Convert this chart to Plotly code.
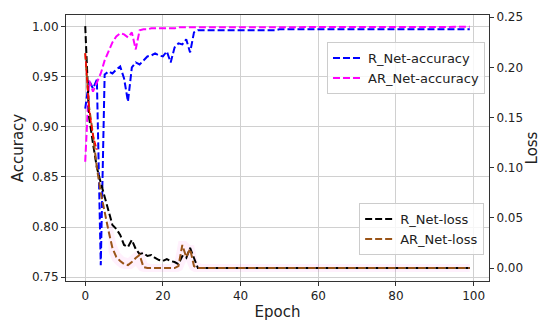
import numpy as np
import plotly.graph_objects as go

epochs = list(range(100))

r_net_accuracy = [
    0.918, 0.946, 0.938, 0.947, 0.762, 0.952, 0.955, 0.953, 0.957, 0.960,
    0.948, 0.925, 0.959, 0.964, 0.962, 0.966, 0.970, 0.971, 0.973, 0.971,
    0.970, 0.975, 0.964, 0.979, 0.983, 0.982, 0.987, 0.974, 0.994, 0.996,
    0.996, 0.996, 0.996, 0.996, 0.996, 0.996, 0.996, 0.996, 0.996, 0.996,
    0.996, 0.996, 0.996, 0.996, 0.996, 0.996, 0.996, 0.996, 0.996, 0.996,
    0.997, 0.997, 0.997, 0.997, 0.997, 0.997, 0.997, 0.997, 0.997, 0.997,
    0.997, 0.997, 0.997, 0.997, 0.997, 0.997, 0.997, 0.997, 0.997, 0.997,
    0.997, 0.997, 0.997, 0.997, 0.997, 0.997, 0.997, 0.997, 0.997, 0.997,
    0.997, 0.997, 0.997, 0.997, 0.997, 0.997, 0.997, 0.997, 0.997, 0.997,
    0.997, 0.997, 0.997, 0.997, 0.997, 0.997, 0.997, 0.997, 0.997, 0.997,
]

ar_net_accuracy = [
    0.865, 0.946, 0.935, 0.944, 0.953, 0.966, 0.975, 0.984, 0.990, 0.993,
    0.992, 0.989, 0.994, 0.977, 0.996, 0.997, 0.997, 0.998, 0.998, 0.998,
    0.998, 0.998, 0.998, 0.998, 0.999, 0.999, 0.999, 0.999, 0.999, 0.9995,
    0.9995, 0.9995, 0.9995, 0.9995, 0.9995, 0.9995, 0.9995, 0.9995, 0.9995, 0.9995,
    0.9995, 0.9995, 0.9995, 0.9995, 0.9995, 0.9995, 0.9995, 0.9995, 0.9995, 0.9995,
    0.9995, 0.9995, 0.9995, 0.9995, 0.9995, 0.9995, 0.9995, 0.9995, 0.9995, 0.9995,
    0.9995, 0.9995, 0.9995, 0.9995, 0.9995, 0.9995, 0.9995, 0.9995, 0.9995, 0.9995,
    0.9995, 0.9995, 0.9995, 0.9995, 0.9995, 0.9995, 0.9995, 0.9995, 0.9995, 0.9995,
    0.9995, 0.9995, 0.9995, 0.9995, 0.9995, 0.9995, 0.9995, 0.9995, 0.9995, 0.9995,
    0.9995, 0.9995, 0.9995, 0.9995, 0.9995, 0.9995, 0.9995, 0.9995, 0.9995, 0.9995,
]

r_net_loss = [
    0.241, 0.150, 0.124, 0.100, 0.085, 0.070, 0.058, 0.043, 0.039, 0.033,
    0.023, 0.021, 0.028, 0.019, 0.014, 0.015, 0.012, 0.013, 0.010, 0.008,
    0.007, 0.009, 0.007, 0.006, 0.004, 0.012, 0.010, 0.020, 0.010, 0.000,
    0.000, 0.000, 0.000, 0.000, 0.000, 0.000, 0.000, 0.000, 0.000, 0.000,
    0.000, 0.000, 0.000, 0.000, 0.000, 0.000, 0.000, 0.000, 0.000, 0.000,
    0.000, 0.000, 0.000, 0.000, 0.000, 0.000, 0.000, 0.000, 0.000, 0.000,
    0.000, 0.000, 0.000, 0.000, 0.000, 0.000, 0.000, 0.000, 0.000, 0.000,
    0.000, 0.000, 0.000, 0.000, 0.000, 0.000, 0.000, 0.000, 0.000, 0.000,
    0.000, 0.000, 0.000, 0.000, 0.000, 0.000, 0.000, 0.000, 0.000, 0.000,
    0.000, 0.000, 0.000, 0.000, 0.000, 0.000, 0.000, 0.000, 0.000, 0.000,
]

ar_net_loss = [
    0.214, 0.160, 0.133, 0.100, 0.075, 0.055, 0.037, 0.020, 0.011, 0.007,
    0.004, 0.003, 0.006, 0.010, 0.013, 0.001, 0.000, 0.000, 0.000, 0.000,
    0.000, 0.000, 0.000, 0.000, 0.002, 0.023, 0.011, 0.019, 0.002, 0.000,
    0.000, 0.000, 0.000, 0.000, 0.000, 0.000, 0.000, 0.000, 0.000, 0.000,
    0.000, 0.000, 0.000, 0.000, 0.000, 0.000, 0.000, 0.000, 0.000, 0.000,
    0.000, 0.000, 0.000, 0.000, 0.000, 0.000, 0.000, 0.000, 0.000, 0.000,
    0.000, 0.000, 0.000, 0.000, 0.000, 0.000, 0.000, 0.000, 0.000, 0.000,
    0.000, 0.000, 0.000, 0.000, 0.000, 0.000, 0.000, 0.000, 0.000, 0.000,
    0.000, 0.000, 0.000, 0.000, 0.000, 0.000, 0.000, 0.000, 0.000, 0.000,
    0.000, 0.000, 0.000, 0.000, 0.000, 0.000, 0.000, 0.000, 0.000, 0.000,
]

# short red segment visible at the very start of the loss curves
red_epochs = [0, 1, 2, 3]
red_loss = [0.214, 0.158, 0.132, 0.118]

x_ticks = [0, 20, 40, 60, 80, 100]
acc_ticks = [0.75, 0.80, 0.85, 0.90, 0.95, 1.00]
loss_ticks = [0.00, 0.05, 0.10, 0.15, 0.20, 0.25]

FONT = "DejaVu Sans"
DASH = "7px,3px"

ar = np.array(ar_net_loss)
band_hi = np.array([ar[max(i - 1, 0):i + 2].max() for i in range(len(ar))]) + 0.004
band_lo = np.array([ar[max(i - 1, 0):i + 2].min() for i in range(len(ar))]) - 0.004

fig = go.Figure()

fig.add_trace(go.Scatter(x=epochs, y=r_net_accuracy, mode="lines", name="R_Net-accuracy",
                         line=dict(color="#0000ff", width=2, dash=DASH), legend="legend"))
fig.add_trace(go.Scatter(x=epochs, y=ar_net_accuracy, mode="lines", name="AR_Net-accuracy",
                         line=dict(color="#ff00ff", width=2, dash=DASH), legend="legend"))

# faint pink band around AR loss
fig.add_trace(go.Scatter(x=epochs[6:], y=band_hi[6:], mode="lines", line=dict(width=0),
                         showlegend=False, yaxis="y2", hoverinfo="skip"))
fig.add_trace(go.Scatter(x=epochs[6:], y=band_lo[6:], mode="lines", line=dict(width=0),
                         fill="tonexty", fillcolor="rgba(255,0,200,0.06)",
                         showlegend=False, yaxis="y2", hoverinfo="skip"))

fig.add_trace(go.Scatter(x=epochs, y=r_net_loss, mode="lines", name="R_Net-loss",
                         line=dict(color="#000000", width=2, dash=DASH), yaxis="y2", legend="legend2"))
fig.add_trace(go.Scatter(x=epochs, y=ar_net_loss, mode="lines", name="AR_Net-loss",
                         line=dict(color="#9a5418", width=2, dash=DASH), yaxis="y2", legend="legend2"))
fig.add_trace(go.Scatter(x=red_epochs, y=red_loss, mode="lines", showlegend=False,
                         line=dict(color="#ff0000", width=1.5, dash="6px,2px"), yaxis="y2"))

axis_common = dict(
    showline=True, linecolor="#333333", linewidth=1,
    ticks="outside", ticklen=4, tickwidth=1, tickcolor="#333333",
    tickfont=dict(family=FONT, size=12, color="#222222"),
    zeroline=False, automargin=False,
)

fig.update_layout(
    width=550, height=326,
    margin=dict(l=66, r=61, t=15, b=45),
    paper_bgcolor="white", plot_bgcolor="white",
    font=dict(family=FONT, color="#222222"),
    xaxis=dict(
        range=[-4.95, 103.95], tickvals=x_ticks, ticktext=[str(v) for v in x_ticks],
        showgrid=True, gridcolor="#d0d0d0", gridwidth=1, mirror=True,
        title=dict(text="Epoch", font=dict(family=FONT, size=15), standoff=4),
        **axis_common,
    ),
    yaxis=dict(
        range=[0.7462, 1.0113], tickvals=acc_ticks, ticktext=[f"{v:.2f}" for v in acc_ticks],
        showgrid=True, gridcolor="#d0d0d0", gridwidth=1,
        title=dict(text="Accuracy", font=dict(family=FONT, size=15), standoff=4),
        **axis_common,
    ),
    yaxis2=dict(
        range=[-0.0129, 0.2521], tickvals=loss_ticks, ticktext=[f"{v:.2f}" for v in loss_ticks],
        overlaying="y", side="right", showgrid=False,
        title=dict(text="Loss", font=dict(family=FONT, size=15), standoff=4),
        **axis_common,
    ),
    legend=dict(
        x=0.617, y=0.898, xanchor="left", yanchor="top", traceorder="normal",
        bgcolor="rgba(255,255,255,0.8)", bordercolor="#cccccc", borderwidth=1,
        font=dict(family=FONT, size=13, color="#222222"), itemwidth=30,
        tracegroupgap=0,
    ),
    legend2=dict(
        x=0.693, y=0.293, xanchor="left", yanchor="top", traceorder="normal",
        bgcolor="rgba(255,255,255,0.8)", bordercolor="#cccccc", borderwidth=1,
        font=dict(family=FONT, size=13, color="#222222"), itemwidth=30,
        tracegroupgap=0,
    ),
    showlegend=True,
)

fig.write_html("out.html", config={"displayModeBar": False},
               post_script="document.body.style.margin='0';document.body.style.padding='0';")
